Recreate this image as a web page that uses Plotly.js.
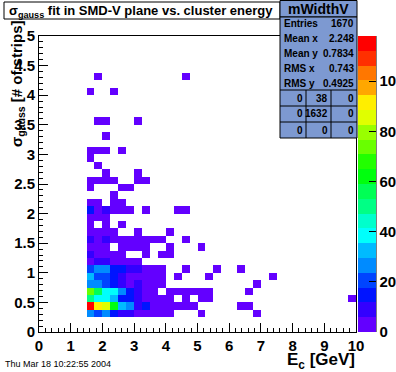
<!DOCTYPE html>
<html><head><meta charset="utf-8">
<script src="https://cdn.plot.ly/plotly-3.0.1.min.js"></script>
<style>html,body{margin:0;padding:0;background:#fff;}#chart{width:396px;height:372px;}</style>
</head><body><div id="chart"></div>
<script>
// ---- data: 2D histogram cells (lower bin edges), bin width 0.25 GeV x 0.125 strips
const binDX = 0.25, binDY = 0.125;
const rowY = [0.25,0.375,0.5,0.625,0.75,0.875,1.0,1.125,1.25,1.375,1.5,1.625,1.75,1.875,2.0,2.125,2.25,2.375,2.5,2.625,2.75,2.875,3.0,3.25,3.5,4.0,4.25];
const rowX = [
  [1.5,1.75,2,2.25,2.5,2.75,3,3.25,3.5,3.75,4,5,6.75],
  [1.5,1.75,2,2.25,2.5,2.75,3,3.25,3.5,3.75,4,4.25,4.5,4.75,6.25,6.5],
  [1.5,1.75,2,2.25,2.5,2.75,3,3.25,3.5,3.75,4,4.5,5,5.25,9.75],
  [1.5,1.75,2,2.25,2.5,2.75,3,3.25,3.5,4,4.25,4.5,4.75,5,5.25,6.5],
  [1.5,1.75,2,2.25,2.5,2.75,3,3.25,3.5,3.75,6.75],
  [1.5,1.75,2,2.25,2.5,2.75,3,3.25,3.5,3.75,4.25,5.25,7.25],
  [1.5,1.75,2,2.25,2.5,2.75,3,3.25,3.5,3.75,4.5,5.5,6.25],
  [1.5,1.75,2,2.25,2.5,2.75,3],
  [1.5,1.75,2,2.25,2.5,3.25,3.75,4],
  [1.5,1.75,2,2.5,2.75,3,3.25,4,5],
  [1.5,1.75,2,2.25,2.5,2.75,3,3.25,3.5,3.75,4.5],
  [1.5,1.75,2,2.25,3,4],
  [1.5,2,2.5],
  [1.5,1.75,2],
  [1.5,1.75,2,2.25,2.5,2.75,3.25,4.25,4.5],
  [1.5,1.75,2.25,2.5],
  [2.25],
  [1.5,2.5,2.75],
  [1.5,1.75,2,2.25,3,3.25],
  [2,3],
  [1.75],
  [1.5],
  [1.5,1.75,2,2.5],
  [2],
  [1.75,2,3],
  [1.5,2.25],
  [1.75,4.5]
];
const rowN = [
  [26,20,26,16,9,9,4,3,2,2,1,1,1],
  [113,92,86,62,32,26,9,15,4,3,3,2,2,1,1,1],
  [50,38,38,32,15,15,8,4,3,2,2,1,1,1,1],
  [74,56,38,38,26,15,9,4,3,2,2,1,1,1,1,1],
  [26,26,20,15,9,5,8,4,3,2,1],
  [32,20,20,15,9,5,4,3,2,2,1,1,1],
  [20,26,26,15,14,9,8,4,3,2,1,1,1],
  [5,8,8,4,3,3,2],
  [7,4,3,3,2,1,1,1],
  [3,3,2,2,2,1,1,1,1],
  [7,4,7,3,3,2,2,1,1,1,1],
  [3,2,2,2,1,1],
  [2,2,1],
  [2,2,2],
  [14,4,7,2,2,1,1,1,1],
  [2,1,1,1],
  [1],
  [1,1,1],
  [2,1,1,1,1,1],
  [1,1],
  [1],
  [1],
  [1,1,1,1],
  [1],
  [1,1,1],
  [1,1],
  [1,1]
];
const zMax = 118;
const cbTicks = [0,20,40,60,80,100];
const statLabels = ["Entries","Mean x","Mean y","RMS x","RMS y"];
const statValues = ["1670","2.248","0.7834","0.743","0.4925"];
const ovfTable = [["0","38","0"],["0","1632","0"],["0","0","0"]];

// ---- ROOT "pretty" palette, 20 contour levels
const bandColors = [];
for (let k = 0; k < 20; k++) {
  const i = Math.floor((k + 0.99) * 2.5);
  const hue = i >= 49 ? 0 : 280 - (i + 1) * 5.6;
  bandColors.push('hsl(' + hue.toFixed(1) + ',100%,50%)');
}
const colorscale = [];
bandColors.forEach((c, k) => { colorscale.push([k / 20, c]); colorscale.push([(k + 1) / 20, c]); });

// ---- build z matrix
const nx = 40, ny = 40;
const z = [];
for (let r = 0; r < ny; r++) { z.push(new Array(nx).fill(null)); }
rowY.forEach((y, r) => {
  rowX[r].forEach((x, c) => {
    z[Math.round(y / binDY)][Math.round(x / binDX)] = rowN[r][c];
  });
});

// ---- pixel helpers for decorations
const L = 39, R = 356, T = 36, B = 332;
const px = v => (v - L) / (R - L);
const py = v => (B - v) / (B - T);
const FONT = 'Liberation Sans, Arial, sans-serif';

const shapes = [];
const annotations = [];
function rect(x0, y0, x1, y1, fill) {
  shapes.push({type:'rect', xref:'paper', yref:'paper', x0:px(x0), x1:px(x1), y0:py(y1), y1:py(y0),
    fillcolor:fill, line:{color:'black', width:1}, layer:'above'});
}
function line(x0, y0, x1, y1) {
  shapes.push({type:'line', xref:'paper', yref:'paper', x0:px(x0), x1:px(x1), y0:py(y0), y1:py(y1),
    line:{color:'black', width:1}, layer:'above'});
}
function txt(text, x, y, xanchor, size, weight, extra) {
  annotations.push(Object.assign({text:text, xref:'paper', yref:'paper', x:px(x), y:py(y), xanchor:xanchor, yanchor:'middle',
    showarrow:false, borderpad:0, font:{family:FONT, size:size, color:'black', weight:weight}}, extra || {}));
}

// title box
rect(4, 2, 280, 19, 'white');
txt('σ<sub>gauss</sub> fit in SMD-V plane vs. cluster energy', 8, 11, 'left', 13, 'bold');

// stats box
const statFill = '#7d99d1';
rect(280, 0.5, 357, 17, statFill);
rect(280, 17, 357, 138, statFill);
txt('mWidthV', 318.5, 9, 'center', 14, 'bold');
const statRowY = [24, 39, 53.5, 68, 83];
statLabels.forEach((s, i) => {
  txt(s, 283, statRowY[i], 'left', 10, 'bold');
  txt(statValues[i], 355, statRowY[i], 'right', 10, 'bold');
});
line(280, 90, 357, 90); line(280, 106, 357, 106); line(280, 122, 357, 122);
line(306, 90, 306, 138); line(331, 90, 331, 138);
const tabColR = [304, 329, 355];
const tabRowY = [98, 114, 130];
ovfTable.forEach((row, r) => row.forEach((v, c) => txt(v, tabColR[c], tabRowY[r], 'right', 10, 'bold')));

// colorbar axis line
line(376, 36, 376, 332);

// axis titles
annotations.push({text:'σ<sub>gauss</sub> [# of strips]', xref:'paper', yref:'paper', x:px(17), y:py(84),
  xanchor:'center', yanchor:'middle', textangle:-90, showarrow:false, borderpad:0,
  font:{family:FONT, size:15, color:'black', weight:'bold'}});
txt('E<sub>c</sub> [GeV]', 356, 361, 'right', 17, 'bold');
txt('Thu Mar 18 10:22:55 2004', 4, 364, 'left', 9, 'normal');

const axisCommon = {
  ticks:'inside', ticklen:9, tickwidth:1, tickcolor:'black',
  showline:true, linecolor:'black', linewidth:1, mirror:true,
  showgrid:false, zeroline:false, fixedrange:true,
  tickfont:{family:FONT, size:15, color:'black', weight:'bold'}
};

const trace = {
  type:'heatmap', z:z, x0:binDX/2, dx:binDX, y0:binDY/2, dy:binDY,
  zmin:0, zmax:zMax, colorscale:colorscale, zsmooth:false, hoverinfo:'skip',
  colorbar:{x:px(358), xanchor:'left', xref:'paper', y:0.5, yanchor:'middle', len:1, lenmode:'fraction',
    thickness:18, thicknessmode:'pixels', xpad:0, ypad:0, outlinewidth:0,
    tickvals:cbTicks, ticks:'inside', ticklen:7, tickwidth:1, tickcolor:'black',
    tickfont:{family:FONT, size:15, color:'black', weight:'bold'}}
};

const layout = {
  width:396, height:372,
  margin:{l:L, r:396 - R, t:T, b:372 - B, autoexpand:false},
  paper_bgcolor:'white', plot_bgcolor:'white', showlegend:false,
  xaxis:Object.assign({}, axisCommon, {range:[0,10], tick0:0, dtick:1,
    minor:{dtick:0.2, tick0:0, ticks:'inside', ticklen:4, tickcolor:'black', showgrid:false}}),
  yaxis:Object.assign({}, axisCommon, {range:[0,5], tick0:0, dtick:0.5,
    minor:{dtick:0.1, tick0:0, ticks:'inside', ticklen:4, tickcolor:'black', showgrid:false}}),
  shapes:shapes, annotations:annotations
};

Plotly.newPlot('chart', [trace], layout, {displayModeBar:false, staticPlot:true});
</script>
</body></html>
